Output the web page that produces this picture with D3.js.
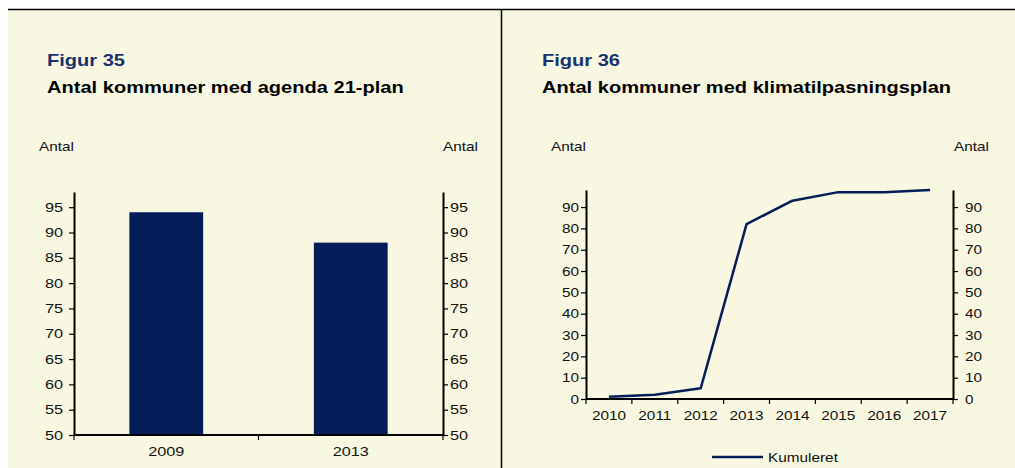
<!DOCTYPE html>
<html>
<head>
<meta charset="utf-8">
<script src="https://cdn.jsdelivr.net/npm/d3@7"></script>
<style>
  html, body { margin: 0; padding: 0; background: #fff; }
  svg { display: block; }
  text { font-family: "Liberation Sans", Arial, sans-serif; }
</style>
</head>
<body>
<script>
// Figur 35: bars
const barYears = ["2009", "2013"];
const barValues = [94, 88];
const barTicks = [50, 55, 60, 65, 70, 75, 80, 85, 90, 95];

// Figur 36: cumulative line
const lineYears = ["2010", "2011", "2012", "2013", "2014", "2015", "2016", "2017"];
const lineValues = [1, 2, 5, 82, 93, 97, 97, 98];
const lineTicks = [0, 10, 20, 30, 40, 50, 60, 70, 80, 90];

const W = 1015, H = 468;
const bg = "#f8f8e2";
const navy = "#041c58";
const figColor = "#1a3170";
const stretch = 1.18;   // source text is set a bit wider than Arial

const svg = d3.select("body").append("svg")
  .attr("width", W)
  .attr("height", H);

// panel background + frame
svg.append("rect")
  .attr("x", 8).attr("y", 9)
  .attr("width", W - 8).attr("height", H - 9)
  .attr("fill", bg);
svg.append("line")
  .attr("x1", 8).attr("x2", W)
  .attr("y1", 9.5).attr("y2", 9.5)
  .attr("stroke", "#000").attr("stroke-width", 1.5);
svg.append("line")
  .attr("x1", 501.5).attr("x2", 501.5)
  .attr("y1", 9).attr("y2", H)
  .attr("stroke", "#000").attr("stroke-width", 1.5);

const heading = (x, fig, title) => {
  svg.append("text")
    .attr("x", x).attr("y", 66)
    .attr("font-size", "17px").attr("font-weight", "bold")
    .attr("fill", figColor)
    .text(fig);
  svg.append("text")
    .attr("x", x).attr("y", 92.5)
    .attr("font-size", "17px").attr("font-weight", "bold")
    .attr("fill", "#000")
    .text(title);
};

const unitLabels = (xl, xr) => {
  svg.append("text")
    .attr("x", xl).attr("y", 151)
    .attr("font-size", "13px").attr("fill", "#111")
    .text("Antal");
  svg.append("text")
    .attr("x", xr).attr("y", 151)
    .attr("text-anchor", "end")
    .attr("font-size", "13px").attr("fill", "#111")
    .text("Antal");
};

const styleAxis = (g, wide) => {
  g.select(".domain").attr("stroke", "#000").attr("stroke-width", 2);
  g.selectAll(".tick line").attr("stroke", "#000").attr("stroke-width", 1.2);
  g.selectAll(".tick text")
    .attr("font-family", "'Liberation Sans', Arial, sans-serif")
    .attr("font-size", "13px").attr("fill", "#111")
    .attr("data-stretch", wide ? 1.25 : null);
};

// category axis: labels at band centres, tick marks at band edges
const catAxis = (x, left, right, bottom, pad, wide) => {
  const gx = svg.append("g").attr("transform", `translate(0,${bottom})`)
    .call(d3.axisBottom(x).tickSize(0).tickPadding(pad));
  styleAxis(gx, wide);
  gx.select(".domain").attr("d", `M${left},0H${right}`);
  gx.selectAll(".boundary")
    .data([left, ...x.domain().map(d => x(d) + x.bandwidth())])
    .join("line")
    .attr("x1", d => d).attr("x2", d => d)
    .attr("y1", 0).attr("y2", 5)
    .attr("stroke", "#000").attr("stroke-width", 1.2);
};

// ---------- Figur 35 ----------
heading(47, "Figur 35", "Antal kommuner med agenda 21-plan");
unitLabels(39, 478);

{
  const left = 74, right = 443, top = 192, bottom = 435;
  const x = d3.scaleBand().domain(barYears).range([left, right]).paddingInner(0).paddingOuter(0);
  const y = d3.scaleLinear().domain([50, 98]).range([bottom, top]);

  svg.append("g")
    .selectAll("rect")
    .data(barYears)
    .join("rect")
    .attr("x", d => x(d) + x.bandwidth() * 0.3)
    .attr("width", x.bandwidth() * 0.4)
    .attr("y", (d, i) => y(barValues[i]))
    .attr("height", (d, i) => y(50) - y(barValues[i]))
    .attr("fill", navy);

  const gl = svg.append("g").attr("transform", `translate(${left},0)`)
    .call(d3.axisLeft(y).tickValues(barTicks).tickSize(5).tickPadding(6).tickSizeOuter(0));
  styleAxis(gl, true);
  const gr = svg.append("g").attr("transform", `translate(${right},0)`)
    .call(d3.axisRight(y).tickValues(barTicks).tickSize(5).tickPadding(2).tickSizeOuter(0));
  styleAxis(gr, true);

  catAxis(x, left, right, bottom, 12, true);
}

// ---------- Figur 36 ----------
heading(542, "Figur 36", "Antal kommuner med klimatilpasningsplan");
unitLabels(551, 989);

{
  const left = 586, right = 953, top = 190, bottom = 399;
  const x = d3.scaleBand().domain(lineYears).range([left, right]).paddingInner(0).paddingOuter(0);
  const y = d3.scaleLinear().domain([0, 98]).range([bottom, top]);

  const gl = svg.append("g").attr("transform", `translate(${left},0)`)
    .call(d3.axisLeft(y).tickValues(lineTicks).tickSize(5).tickPadding(2).tickSizeOuter(0));
  styleAxis(gl);
  const gr = svg.append("g").attr("transform", `translate(${right},0)`)
    .call(d3.axisRight(y).tickValues(lineTicks).tickSize(5).tickPadding(7).tickSizeOuter(0));
  styleAxis(gr);

  catAxis(x, left, right, bottom, 12);

  const line = d3.line()
    .x((d, i) => x(lineYears[i]) + x.bandwidth() / 2)
    .y(d => y(d));

  svg.append("path")
    .datum(lineValues)
    .attr("d", line)
    .attr("fill", "none")
    .attr("stroke", navy)
    .attr("stroke-width", 2.5)
    .attr("stroke-linejoin", "round");

  // legend
  svg.append("line")
    .attr("x1", 712).attr("x2", 763)
    .attr("y1", 457).attr("y2", 457)
    .attr("stroke", navy).attr("stroke-width", 2.5);
  svg.append("text")
    .attr("x", 768).attr("y", 461.5)
    .attr("font-size", "13px").attr("fill", "#111")
    .text("Kumuleret");
}

// widen all text to match the source's wider glyphs
svg.selectAll("text").each(function () {
  const w = this.getComputedTextLength();
  const k = +this.getAttribute("data-stretch") || stretch;
  d3.select(this)
    .attr("textLength", w * k)
    .attr("lengthAdjust", "spacingAndGlyphs");
});
</script>
</body>
</html>
